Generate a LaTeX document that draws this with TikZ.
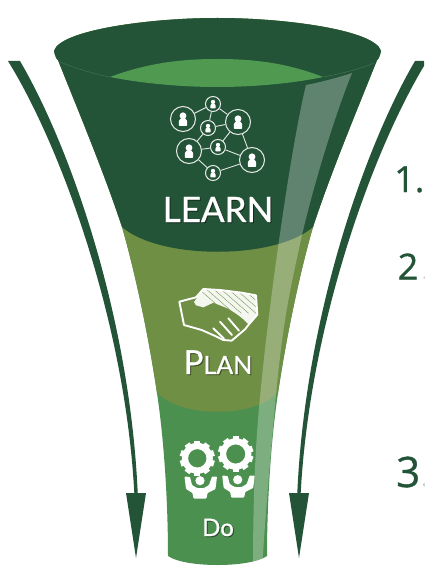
\documentclass[tikz,border=0pt]{standalone}
\usepackage{fontspec}
\setmainfont{Lato}
\newfontfamily\numfont[FakeBold=0.8]{Open Sans}
\newfontfamily\titlefont[FakeBold=0.9]{Lato}
\definecolor{fdark}{HTML}{245438}
\definecolor{folive}{HTML}{6F8F45}
\definecolor{fgreen}{HTML}{4C9050}
\definecolor{flens}{HTML}{4F9A50}
\newcommand{\funnelpath}{(54,51) .. controls (60,30) and (150,18) .. (217.5,18) .. controls (285,18) and (375,30) .. (381,51) .. controls (380,56) and (378,60) .. (377,60) .. controls (355,115) and (330,175) .. (313,227) .. controls (302,265) and (287,330) .. (277,400) .. controls (270,450) and (267,510) .. (267,556) .. controls (250,568) and (185,568) .. (168,556) .. controls (168,510) and (165,450) .. (158,400) .. controls (148,330) and (133,265) .. (122,227) .. controls (105,175) and (80,115) .. (58,60) .. controls (57,60) and (55,56) .. (54,51) -- cycle}
\newcommand{\arrowshape}{(8,61) .. controls (60,145) and (125,320) .. (134.3,493) -- (126,493) -- (136,558) -- (146,493) -- (137.7,493) .. controls (130,320) and (72,150) .. (20,61) -- cycle}
\newcommand{\personpic}[2]{\fill[white] (#1) ++(0,{-0.34*#2}) circle ({0.36*#2*1pt});
  \fill[white,rounded corners=0.6pt] (#1) ++({-0.44*#2},{0.72*#2}) -- ++(0,{-0.50*#2}) -- ++({0.22*#2},{-0.30*#2}) -- ++({0.44*#2},0) -- ++({0.22*#2},{0.30*#2}) -- ++(0,{0.50*#2}) -- cycle;}
\newcommand{\handregion}{(100,28) -- (150,30) -- (215,38) -- (258,46) -- (262,104) -- (236,134) .. controls (215,110) and (190,95) .. (170,84) -- (130,68) -- (100,82) -- (78,76) -- (72,66) -- cycle}
\tikzset{
  netbig/.style={circle,draw=white!88!fdark,line width=1pt,minimum size=25pt,inner sep=0pt},
  netsmall/.style={circle,draw=white!88!fdark,line width=1pt,minimum size=15pt,inner sep=0pt},
  netlink/.style={draw=white!85!fdark,line width=0.9pt},
  title/.style={text=white,inner sep=0pt,anchor=base,font=\titlefont},
  shade/.style={text=black,opacity=0.4,inner sep=0pt,anchor=base,font=\titlefont},
  numeral/.style={text=fdark,inner sep=0pt,anchor=base west,font=\numfont},
  handline/.style={draw=white,line width=1.9pt,line join=round,line cap=round},
  hatchline/.style={draw=folive,line width=0.35pt}
}
\begin{document}
\begin{tikzpicture}[x=1pt,y=-1pt]
\useasboundingbox (0,0) rectangle (424,567);
\clip (0,0) rectangle (424,567);
\fill[white] (0,0) rectangle (424,567);
% side arrows
\fill[fdark] \arrowshape;
\begin{scope}[xshift=435pt,xscale=-1]
\fill[fdark] \arrowshape;
\end{scope}
% funnel bands
\begin{scope}
\clip \funnelpath;
\fill[fgreen] (0,0) rectangle (424,567);
\fill[folive] (0,0) -- (0,393) -- (158,393) .. controls (180,418) and (255,418) .. (277,393) -- (424,393) -- (424,0) -- cycle;
\fill[fdark] (0,0) -- (0,227) -- (122,227) .. controls (160,260) and (275,260) .. (313,227) -- (424,227) -- (424,0) -- cycle;
\fill[white,opacity=0.28] (306,85) .. controls (322,82) and (340,77) .. (352,73) .. controls (335,115) and (315,180) .. (302,235) .. controls (290,290) and (283,320) .. (276,395) .. controls (270,460) and (265,520) .. (262,570) -- (253,570) .. controls (253,520) and (254,470) .. (258,420) .. controls (265,330) and (290,150) .. (306,85) -- cycle;
\end{scope}
% rim
\fill[flens] (110,77) .. controls (150,62) and (185,59) .. (217,59) .. controls (250,59) and (285,62) .. (323,77) .. controls (290,84) and (250,87) .. (217,87) .. controls (185,87) and (145,84) .. (110,77) -- cycle;
\draw[white!18!fdark,line width=0.4pt] (60,62) .. controls (75,68) and (90,73) .. (110,77);
\draw[white!18!fdark,line width=0.4pt] (323,77) .. controls (340,74) and (360,69) .. (374,63);
% network
\node[netsmall] (n1) at (213,104) {};
\node[netbig] (n2) at (183,119) {};
\node[netsmall] (n3) at (208,128) {};
\node[netbig] (n4) at (238,122) {};
\node[netbig] (n5) at (189,151) {};
\node[netsmall] (n6) at (218,147) {};
\node[netbig] (n7) at (252,160) {};
\node[netsmall] (n8) at (213,173) {};
\path[netlink] (n1) -- (n2) (n1) -- (n3) (n1) -- (n4) (n3) -- (n4) (n3) -- (n5) (n4) -- (n6) (n4) -- (n7) (n5) -- (n6) (n6) -- (n7) (n5) -- (n8) (n8) -- (n7);
\personpic{n1}{6}
\personpic{n2}{9.5}
\personpic{n3}{6}
\personpic{n4}{9.5}
\personpic{n5}{9.5}
\personpic{n6}{6}
\personpic{n7}{9.5}
\personpic{n8}{6}
% handshake
\begin{scope}[shift={(170,280)},x=0.3333pt,y=-0.3333pt]
\fill[white!92!folive] \handregion;
\begin{scope}
\clip \handregion;
\foreach \q in {0,22,...,154}{
  \draw[hatchline] (90+\q,30) -- (170+\q,100);
}
\end{scope}
\draw[handline] (28,65) -- (78,52) -- (100,27) -- (150,30) -- (215,38) -- (258,46) -- (262,104) -- (236,134) -- (225,148) -- (205,165) -- (185,182) -- (160,180) -- (140,170) -- (95,150) -- (42,135) -- cycle;
\draw[handline] (130,145) -- (162,176);
\draw[handline] (150,125) -- (186,165);
\draw[handline] (175,115) -- (207,152);
\end{scope}
% gears and people
\begin{scope}[shift={(197.3,458.3)}]
\fill[white,even odd rule] (0,0) circle (15.5pt) (0,0) circle (9.2pt);
\foreach \a in {0,36,...,324}{\fill[white,rotate=\a] (-3,13) rectangle (3,17.5);}
\end{scope}
\begin{scope}[shift={(235.7,454)}]
\fill[white,even odd rule] (0,0) circle (15.7pt) (0,0) circle (9.6pt);
\foreach \a in {0,36,...,324}{\fill[white,rotate=\a] (-3,13) rectangle (3,17.7);}
\end{scope}
\foreach \dx/\dy in {0/0,37.7/-1}{
\begin{scope}[shift={(\dx,\dy)}]
\fill[white] (200,480.7) circle (4.6pt);
\fill[white,rounded corners=0.8pt] (184.5,476.5) -- (190,477) -- (192,485) -- (197,488) -- (204,488) -- (209,485) -- (212,476.5) -- (217,476.5) -- (215.5,489) -- (207.5,493) -- (206.5,498.5) -- (193.5,498.5) -- (192.5,493) -- (186,489) -- cycle;
\end{scope}}
% titles
\node[shade] (learnshade) at (219,223) {\fontsize{35}{35}\selectfont LEARN};
\node[title] (learn) at (218,222) {\fontsize{35}{35}\selectfont LEARN};
\node[shade] (planshade) at (219,375) {\fontsize{33}{33}\selectfont P\fontsize{25}{25}\selectfont LAN};
\node[title] (plan) at (218,374) {\fontsize{33}{33}\selectfont P\fontsize{25}{25}\selectfont LAN};
\node[shade] (doshade) at (219,537) {\fontsize{24}{24}\selectfont Do};
\node[title] (do) at (218,536) {\fontsize{24}{24}\selectfont Do};
% numerals
\node[numeral] (one) at (394,192) {\fontsize{36}{36}\selectfont 1.};
\node[numeral] (two) at (397.5,279.5) {\fontsize{36}{36}\selectfont 2\kern3pt.};
\node[numeral] (three) at (396,487) {\fontsize{42}{42}\selectfont 3\kern0.5pt.};
\end{tikzpicture}
\end{document}
